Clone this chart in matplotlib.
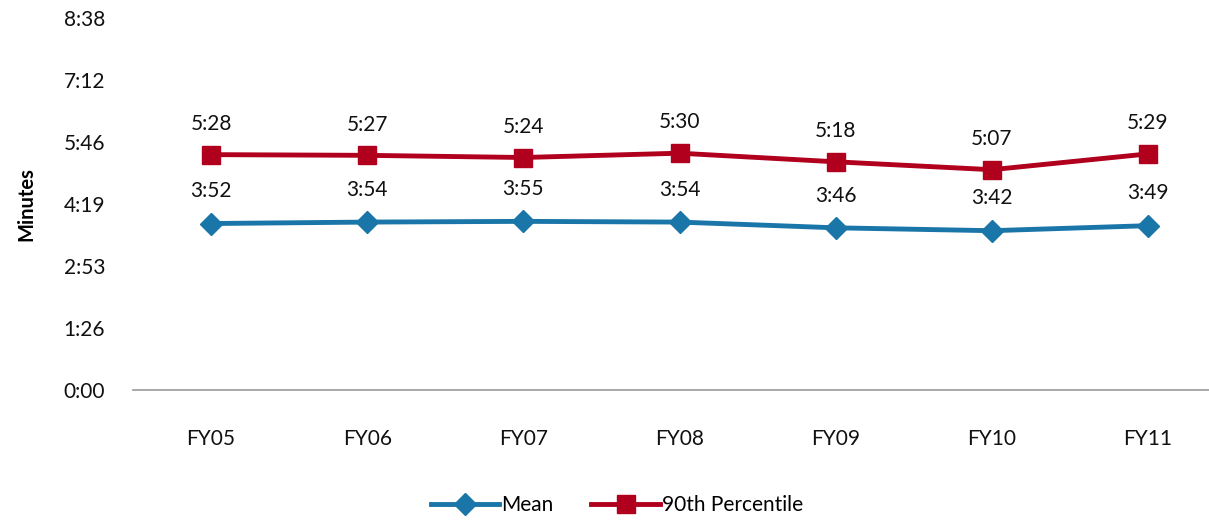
import matplotlib
matplotlib.use("Agg")
from matplotlib import pyplot as plt
from matplotlib.ticker import FixedLocator, FuncFormatter

# data (seconds)
years = ["FY05", "FY06", "FY07", "FY08", "FY09", "FY10", "FY11"]
mean_lbl = ["3:52", "3:54", "3:55", "3:54", "3:46", "3:42", "3:49"]
p90_lbl = ["5:28", "5:27", "5:24", "5:30", "5:18", "5:07", "5:29"]
y_ticks = [0, 86.4, 172.8, 259.2, 345.6, 432.0, 518.4]


def to_sec(s):
    m, ss = s.split(":")
    return int(m) * 60 + int(ss)


mean_vals = [to_sec(s) for s in mean_lbl]
p90_vals = [to_sec(s) for s in p90_lbl]

blue = "#1a75a8"
red = "#b0001e"

plt.rcParams['font.family'] = ['Lato', 'DejaVu Sans']

fig = plt.figure(figsize=(12.09, 5.21), dpi=100)
ax = fig.add_axes([133 / 1209, 131 / 521, 1093 / 1209, 372 / 521])

x = list(range(len(years)))
ax.plot(x, mean_vals, color=blue, lw=3.5, marker="D", ms=11, label="Mean", zorder=3)
ax.plot(x, p90_vals, color=red, lw=3.5, marker="s", ms=13, label="90th Percentile", zorder=3)

for i in x:
    ax.annotate(mean_lbl[i], (i, mean_vals[i]), xytext=(0, 16), textcoords="offset points",
                ha="center", va="bottom", fontsize=15, color="#111111")
    ax.annotate(p90_lbl[i], (i, p90_vals[i]), xytext=(0, 15), textcoords="offset points",
                ha="center", va="bottom", fontsize=15, color="#111111")

ax.set_xlim(-0.5, len(years) - 0.5)
ax.set_ylim(0, 518.4)
ax.yaxis.set_major_locator(FixedLocator(y_ticks))
ax.yaxis.set_major_formatter(FuncFormatter(lambda v, p: "%d:%02d" % divmod(int(round(v)), 60)))
ax.set_xticks(x)
ax.set_xticklabels(years)
ax.tick_params(axis="both", length=0, labelsize=15, colors="#111111")
ax.tick_params(axis="y", pad=20)
ax.tick_params(axis="x", pad=28)

for side in ["top", "right", "left"]:
    ax.spines[side].set_visible(False)
ax.spines["bottom"].set_color("#999999")
ax.spines["bottom"].set_linewidth(1.2)

ax.set_ylabel("Minutes", fontsize=14.5, fontweight="bold", labelpad=20)

fig.legend(loc="center", bbox_to_anchor=(617 / 1209, 1 - 505 / 521), ncol=2, frameon=False,
           fontsize=15, handlelength=3.3, columnspacing=1.8, handletextpad=0.1)

fig.savefig("out.png", dpi=100)
